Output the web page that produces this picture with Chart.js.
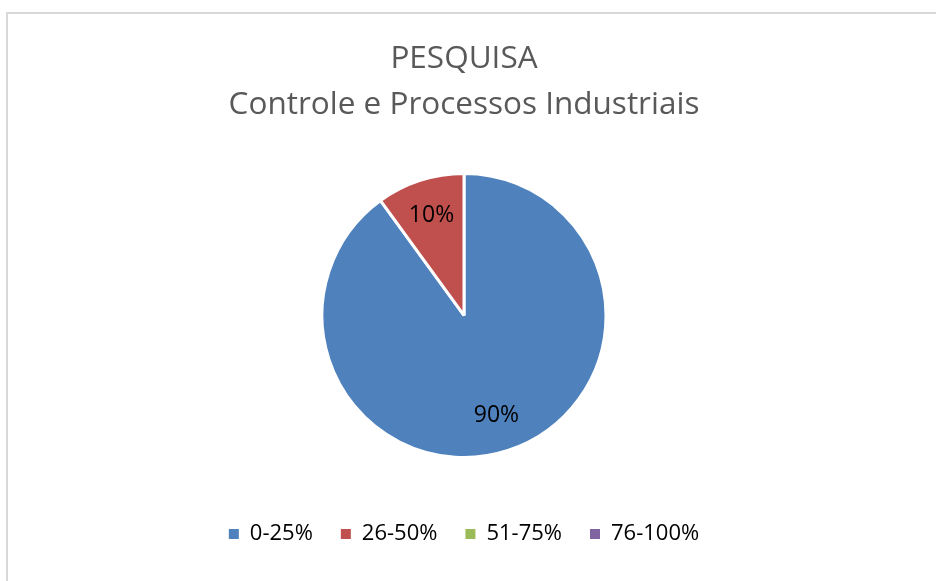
<!DOCTYPE html>
<html>
<head>
<meta charset="utf-8">
<script src="https://cdn.jsdelivr.net/npm/chart.js@4/dist/chart.umd.min.js"></script>
<style>
  html, body { margin: 0; padding: 0; background: #fff; }
  #frame {
    position: absolute; left: 6px; top: 12px; width: 930px; height: 569px;
    border-left: 2px solid #d9d9d9; border-top: 2px solid #d9d9d9;
    box-sizing: border-box; background: #fff;
  }
  #wrap { position: absolute; left: 0; top: 0; width: 928px; height: 567px; }
</style>
</head>
<body>
<div id="frame"><div id="wrap"><canvas id="c" width="928" height="567"></canvas></div></div>
<script>
// Faixas de resposta e percentuais da pesquisa
const categories = ['0-25%', '26-50%', '51-75%', '76-100%'];
const percentages = [90, 10, 0, 0];
const sliceColors = ['#4F81BD', '#C0504D', '#9BBB59', '#8064A2'];
const titleLines = ['PESQUISA', 'Controle e Processos Industriais'];

// Rótulos de valor dentro de cada fatia (apenas fatias não vazias)
const sliceLabels = {
  id: 'sliceLabels',
  afterDatasetsDraw(chart) {
    const ctx = chart.ctx;
    const meta = chart.getDatasetMeta(0);
    ctx.save();
    ctx.font = '23px "Open Sans"';
    ctx.fillStyle = '#000';
    ctx.textAlign = 'center';
    ctx.textBaseline = 'middle';
    meta.data.forEach((arc, i) => {
      const v = chart.data.datasets[0].data[i];
      if (!v) return;
      const { x, y, startAngle, endAngle, outerRadius } = arc.getProps(['x', 'y', 'startAngle', 'endAngle', 'outerRadius'], true);
      const mid = (startAngle + endAngle) / 2;
      const d = outerRadius * 0.74;
      ctx.fillText(v + '%', x + Math.cos(mid) * d, y + Math.sin(mid) * d);
    });
    ctx.restore();
  }
};

const defaultLabels = Chart.overrides.pie.plugins.legend.labels.generateLabels;

new Chart(document.getElementById('c'), {
  type: 'pie',
  data: {
    labels: categories,
    datasets: [{
      data: percentages,
      backgroundColor: sliceColors,
      borderColor: '#ffffff',
      borderWidth: 3,
      hoverOffset: 0,
      radius: 142
    }]
  },
  options: {
    responsive: false,
    animation: false,
    layout: { padding: { left: 0, right: 16, top: 0, bottom: 26 } },
    plugins: {
      title: {
        display: true,
        text: titleLines,
        color: '#595959',
        font: { family: '"Open Sans"', size: 31.5, weight: 'normal', lineHeight: 1.46 },
        padding: { top: 22, bottom: 8 }
      },
      legend: {
        position: 'bottom',
        labels: {
          color: '#000',
          font: { family: '"Open Sans"', size: 22 },
          boxWidth: 10,
          boxHeight: 10,
          padding: 28,
          generateLabels(chart) {
            return defaultLabels(chart).map(l => Object.assign(l, { lineWidth: 0, strokeStyle: l.fillStyle }));
          }
        }
      },
      tooltip: { enabled: false }
    }
  },
  plugins: [sliceLabels]
});
</script>
</body>
</html>
